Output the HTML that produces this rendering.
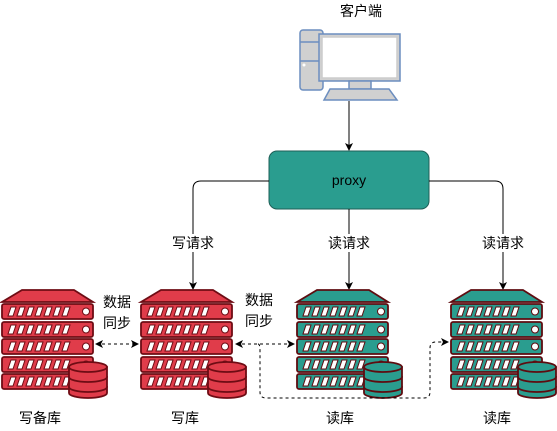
<!DOCTYPE html>
<html><head><meta charset="utf-8"><style>
html,body{margin:0;padding:0;background:#fff;}
svg{display:block;font-family:"Liberation Sans","Noto Sans CJK SC",sans-serif;}
</style></head><body>
<svg width="557" height="431" viewBox="0 0 557 431" xmlns="http://www.w3.org/2000/svg">
<defs>
<marker id="ah" markerWidth="10" markerHeight="10" refX="8" refY="5" orient="auto" markerUnits="userSpaceOnUse">
<path d="M1,1 L9,5 L1,9 L3,5 z" fill="#000"/></marker>
<marker id="ahs" markerWidth="10" markerHeight="10" refX="2" refY="5" orient="auto" markerUnits="userSpaceOnUse">
<path d="M9,1 L1,5 L9,9 L7,5 z" fill="#000"/></marker>
<g id="rowr">
<rect x="0" y="0" width="91" height="15" rx="2" fill="inherit" stroke="inherit" stroke-width="1.8"/>
<g fill="#fff"><path d="M9,3h5l-3,9h-5z"/><path d="M18,3h5l-3,9h-5z"/><path d="M27,3h5l-3,9h-5z"/><path d="M36,3h5l-3,9h-5z"/><path d="M45,3h5l-3,9h-5z"/><path d="M54,3h5l-3,9h-5z"/><path d="M63,3h5l-3,9h-5z"/><circle cx="84" cy="7.5" r="3.5"/></g>
</g>
<g id="srv">
<path d="M20,0 L72,0 L91,12 L0,12 Z" stroke-width="1.8"/>
<use href="#rowr" y="14"/><use href="#rowr" y="32"/><use href="#rowr" y="49"/><use href="#rowr" y="67"/><use href="#rowr" y="84"/>
<g transform="translate(67,72)" stroke-width="1.8">
<path d="M0,25 v6 a19,5 0 0 0 38,0 v-6 z"/>
<path d="M0,15 v10 a19,5 0 0 0 38,0 v-10 z"/>
<path d="M0,5 v10 a19,5 0 0 0 38,0 v-10 z"/>
<ellipse cx="19" cy="5" rx="19" ry="5"/>
</g>
</g>
</defs>
<text x="361" y="16" font-size="14" text-anchor="middle">客户端</text>
<g stroke="#6c8ebf" stroke-width="1.5">
<rect x="300" y="30" width="23" height="60" rx="3" fill="#d0d0d0"/>
<line x1="300" y1="42" x2="323" y2="42"/><line x1="300" y1="61" x2="323" y2="61"/>
<rect x="319" y="34" width="81" height="47" fill="#d0d0d0"/>
<rect x="322" y="37" width="75" height="41" fill="#fff" stroke="#ccc"/>
<rect x="349" y="81" width="22" height="8" fill="#d0d0d0"/>
<path d="M330,89 H389 L397,100 H324 Z" fill="#d0d0d0"/>
</g>
<circle cx="304" cy="65" r="1.5" fill="#fff"/>
<line x1="349" y1="101" x2="349" y2="150" stroke="#000" marker-end="url(#ah)"/>
<rect x="269" y="151" width="160" height="58" rx="8" fill="#2a9d8f" stroke="#1f5f57"/>
<text x="349" y="185" font-size="14" text-anchor="middle">proxy</text>
<path d="M269,181 H201 Q193,181 193,189 V289" fill="none" stroke="#000" marker-end="url(#ah)"/>
<path d="M429,181 H495 Q503,181 503,189 V289" fill="none" stroke="#000" marker-end="url(#ah)"/>
<line x1="349" y1="209" x2="349" y2="289" stroke="#000" marker-end="url(#ah)"/>
<g font-size="14" text-anchor="middle">
<rect x="170" y="234" width="46" height="18" fill="#fff"/><text x="193" y="248">写请求</text>
<rect x="326" y="234" width="46" height="18" fill="#fff"/><text x="349" y="248">读请求</text>
<rect x="480" y="234" width="46" height="18" fill="#fff"/><text x="503" y="248">读请求</text>
</g>
<g fill="#e03c4a" stroke="#6e0c14"><use href="#srv" x="2" y="290"/><use href="#srv" x="141" y="290"/></g>
<g fill="#2a9d8f" stroke="#5e0c10"><use href="#srv" x="297" y="290"/><use href="#srv" x="451" y="290"/></g>
<g stroke="#000" stroke-dasharray="3,3" fill="none">
<line x1="96" y1="344" x2="138" y2="344" marker-start="url(#ahs)" marker-end="url(#ah)"/>
<line x1="236" y1="344" x2="294" y2="344" marker-start="url(#ahs)" marker-end="url(#ah)"/>
<path d="M258,344 Q260,344 260,350 V392 Q260,398 266,398 H424 Q430,398 430,392 V348 Q430,342 436,342 H448" marker-end="url(#ah)"/>
</g>
<g font-size="14">
<text x="103" y="307">数据</text><text x="103" y="328">同步</text>
<text x="245" y="305">数据</text><text x="245" y="326">同步</text>
</g>
<g font-size="14" text-anchor="middle">
<text x="40" y="423">写备库</text><text x="185" y="423">写库</text>
<text x="340" y="423">读库</text><text x="497" y="423">读库</text>
</g>
</svg>
</body></html>
